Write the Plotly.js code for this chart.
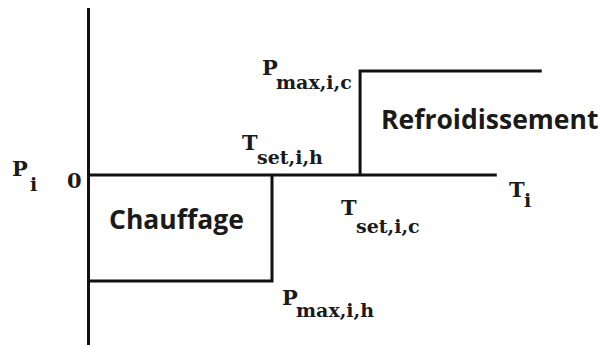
<!DOCTYPE html>
<html>
<head>
<meta charset="utf-8">
<script src="https://cdn.plot.ly/plotly-3.0.1.min.js"></script>
<style>
  html, body { margin: 0; padding: 0; background: #fff; }
  #chart { width: 601px; height: 345px; }
</style>
</head>
<body>
<div id="chart"></div>
<script>
// step profile of the heating / cooling power vs indoor temperature (schematic units)
var heatT = [0, 20, 20];
var heatP = [-1.02, -1.02, 0];
var coolT = [29.6, 29.6, 49.4];
var coolP = [0, 1, 1];
var axisT = [0, 44.5];
var axisP = [1.606, -1.8];

var lineColour = '#111111';

function lineTrace(x, y) {
    return {
        x: x,
        y: y,
        type: 'scatter',
        mode: 'lines',
        line: { color: lineColour, width: 3 },
        hoverinfo: 'skip'
    };
}

var data = [
    lineTrace([0, 0], axisP),
    lineTrace(axisT, [0, 0]),
    lineTrace(heatT, heatP),
    lineTrace(coolT, coolP)
];

var W = 601, H = 345;
var serif = 'DejaVu Serif';
var sans = 'Open Sans';

// label placed by its left edge and baseline in pixels
function label(text, left, baseline, size, family, bold, descent) {
    return {
        xref: 'paper', yref: 'paper',
        x: left / W,
        y: 1 - (baseline + descent * size) / H,
        xanchor: 'left', yanchor: 'bottom',
        text: bold ? '<b>' + text + '</b>' : text,
        showarrow: false,
        borderpad: 0, borderwidth: 0,
        font: { family: family, size: size, color: '#1a1a1a' }
    };
}

function serifLabel(text, left, baseline, size) {
    return label(text, left, baseline, size, serif, true, 0.236);
}

var annotations = [
    serifLabel('P', 12, 176, 21),
    serifLabel('i', 30, 191, 19),
    serifLabel('0', 67, 188, 21),
    serifLabel('P', 262, 75, 21),
    serifLabel('max,i,c', 276, 89, 19),
    serifLabel('T', 242, 150, 21),
    serifLabel('set,i,h', 257, 164, 19),
    serifLabel('T', 509, 197, 21),
    serifLabel('i', 524, 207, 19),
    serifLabel('T', 341, 215, 21),
    serifLabel('set,i,c', 356, 233, 19),
    serifLabel('P', 282, 305, 21),
    serifLabel('max,i,h', 296, 317, 19),
    label('Refroidissement', 381, 129, 26.5, sans, true, 0.293),
    label('Chauffage', 109, 229, 26.5, sans, true, 0.293)
];

var layout = {
    width: W,
    height: H,
    margin: { l: 0, r: 0, t: 0, b: 0 },
    paper_bgcolor: '#ffffff',
    plot_bgcolor: '#ffffff',
    showlegend: false,
    xaxis: { range: [-9.646, 55.858], visible: false, fixedrange: true },
    yaxis: { range: [-1.6346, 1.6827], visible: false, fixedrange: true },
    annotations: annotations
};

Plotly.newPlot('chart', data, layout, { staticPlot: true, displayModeBar: false });
</script>
</body>
</html>
